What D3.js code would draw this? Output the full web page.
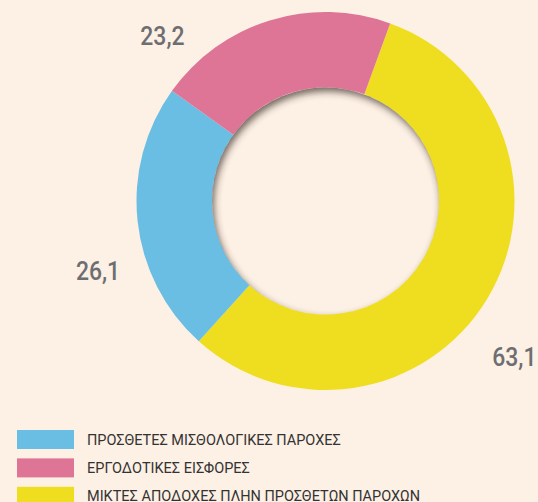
<!DOCTYPE html>
<html>
<head>
<meta charset="utf-8">
<script src="https://cdn.jsdelivr.net/npm/d3@7/dist/d3.min.js"></script>
<style>
  html, body { margin: 0; padding: 0; background: #fdf0e4; }
  svg { display: block; }
</style>
</head>
<body>
<div id="chart"></div>
<script>
// data, in legend order
const categories = [
  'ΠΡΟΣΘΕΤΕΣ ΜΙΣΘΟΛΟΓΙΚΕΣ ΠΑΡΟΧΕΣ',
  'ΕΡΓΟΔΟΤΙΚΕΣ ΕΙΣΦΟΡΕΣ',
  'ΜΙΚΤΕΣ ΑΠΟΔΟΧΕΣ ΠΛΗΝ ΠΡΟΣΘΕΤΩΝ ΠΑΡΟΧΩΝ'
];
const values = [26.1, 23.2, 63.1];
const colors = ['#6bbee3', '#de7596', '#efde1f'];
// order of slices round the ring, clockwise from the start angle
const sliceOrder = [2, 0, 1];

const width = 538, height = 502;
const cx = 325.5, cy = 201;
const outerR = 189, innerR = 113.5;
const startDeg = 20;
// small nudges (deg, px) so labels sit where the original put them
const labelNudge = [-11, -27.5, 8.5];
const labelPad = [0, -6, 7];
const labelR = 238;

const locale = d3.formatLocale({ decimal: ',', thousands: '.', grouping: [3], currency: ['', '€'] });
const fmt = locale.format('.1f');

const svg = d3.select('#chart').append('svg')
  .attr('width', width)
  .attr('height', height);

svg.append('rect')
  .attr('width', width)
  .attr('height', height)
  .attr('fill', '#fdf0e4');

const defs = svg.append('defs');
defs.append('clipPath').attr('id', 'hole')
  .append('circle')
  .attr('cx', cx).attr('cy', cy).attr('r', innerR);
defs.append('filter').attr('id', 'blur')
  .attr('x', '-20%').attr('y', '-20%').attr('width', '140%').attr('height', '140%')
  .append('feGaussianBlur').attr('stdDeviation', 3.5);

const rad = d => d * Math.PI / 180;

const pie = d3.pie()
  .sort(null)
  .value(i => values[i])
  .startAngle(rad(startDeg))
  .endAngle(rad(startDeg + 360));

const arc = d3.arc()
  .innerRadius(innerR)
  .outerRadius(outerR);

const arcs = pie(sliceOrder);

const g = svg.append('g')
  .attr('transform', `translate(${cx}, ${cy})`);

g.selectAll('path.slice')
  .data(arcs)
  .join('path')
  .attr('class', 'slice')
  .attr('fill', d => colors[d.data])
  .attr('d', arc);

// inner shadow cast by the ring into the hole
svg.append('g')
  .attr('clip-path', 'url(#hole)')
  .append('circle')
  .attr('cx', cx + 2)
  .attr('cy', cy + 4)
  .attr('r', innerR + 20)
  .attr('fill', 'none')
  .attr('stroke', '#3a3026')
  .attr('stroke-opacity', 0.7)
  .attr('stroke-width', 40)
  .attr('filter', 'url(#blur)');

// value labels
g.selectAll('text.val')
  .data(arcs)
  .join('text')
  .attr('class', 'val')
  .attr('transform', d => {
    const a = (d.startAngle + d.endAngle) / 2 + rad(labelNudge[d.data]);
    const r = labelR + labelPad[d.data];
    return `translate(${r * Math.sin(a)}, ${-r * Math.cos(a)}) scale(0.9, 1)`;
  })
  .attr('text-anchor', 'middle')
  .attr('dy', '0.36em')
  .attr('font-family', 'Roboto, sans-serif')
  .attr('font-weight', 500)
  .attr('font-size', 25.5)
  .attr('fill', '#6d6e71')
  .text(d => fmt(values[d.data]));

// legend
const legend = svg.append('g')
  .attr('transform', 'translate(17, 430)');

const rows = legend.selectAll('g')
  .data(categories)
  .join('g')
  .attr('transform', (d, i) => `translate(0, ${i * 28.4})`);

rows.append('rect')
  .attr('width', 57)
  .attr('height', 19)
  .attr('fill', (d, i) => colors[i]);

rows.append('text')
  .attr('x', 70)
  .attr('y', 14.7)
  .attr('font-family', 'Roboto, sans-serif')
  .attr('font-size', 14.5)
  .attr('fill', '#333333')
  .text(d => d);
</script>
</body>
</html>
